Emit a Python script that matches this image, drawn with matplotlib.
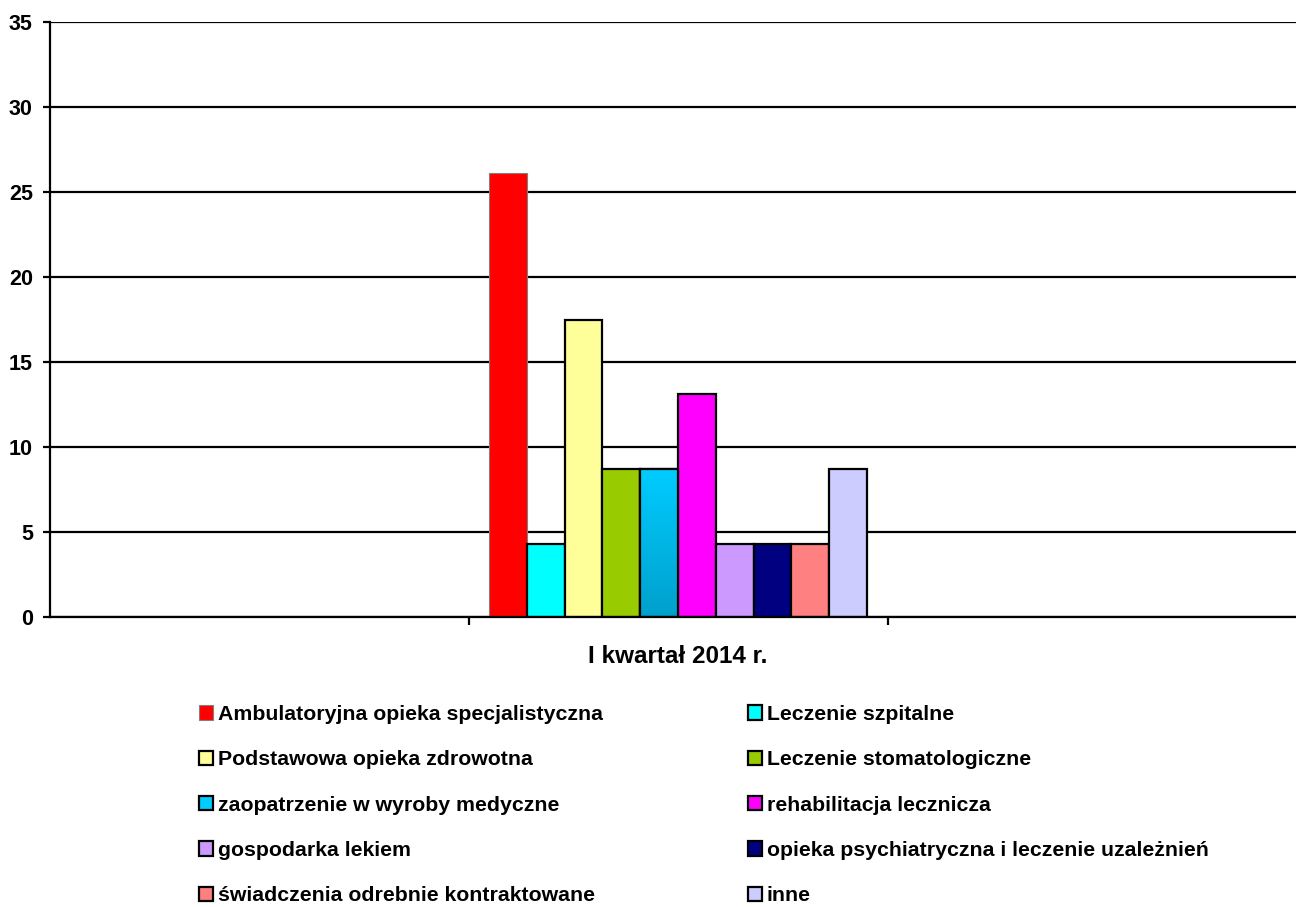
import matplotlib
matplotlib.use("Agg")
import matplotlib.pyplot as plt
import numpy as np
from matplotlib.colors import LinearSegmentedColormap

plt.rcParams['font.family'] = ['Liberation Sans', 'DejaVu Sans']
plt.rcParams['font.weight'] = 'bold'

categories = ['', 'I kwartał 2014 r.', '']
series = ['Ambulatoryjna opieka specjalistyczna', 'Leczenie szpitalne',
          'Podstawowa opieka zdrowotna', 'Leczenie stomatologiczne',
          'zaopatrzenie w wyroby medyczne', 'rehabilitacja lecznicza',
          'gospodarka lekiem', 'opieka psychiatryczna i leczenie uzależnień',
          'świadczenia odrebnie kontraktowane', 'inne']
values = [26.1, 4.3, 17.5, 8.7, 8.7, 13.1, 4.3, 4.3, 4.3, 8.7]
colors = ['#FF0000', '#00FFFF', '#FFFF99', '#99CC00', '#00CCFF',
          '#FF00FF', '#CC99FF', '#000080', '#FF8080', '#CCCCFF']
yticks = [0, 5, 10, 15, 20, 25, 30, 35]

W, H = 1296, 907
fig = plt.figure(figsize=(W / 100, H / 100), dpi=100)
ax_l, ax_r, ax_b, ax_t = 49.5, 1296, 617, 22
ax = fig.add_axes([ax_l / W, 1 - ax_b / H, (ax_r - ax_l) / W, (ax_b - ax_t) / H])

cat_px = 419.0
n = len(series)
bw = 0.902 / n
handles = []
for i, (lab, v, c) in enumerate(zip(series, values, colors)):
    x = 1 - 0.451 + bw * (i + 0.5)
    ec = '#808080' if i == 0 else 'black'
    lw = 0.8 if i == 0 else 1.6
    b = ax.bar(x, v, width=bw, color=c, edgecolor=ec, linewidth=lw, label=lab, zorder=3)
    handles.append(b.patches[0])
    if i == 4:
        rect = b.patches[0]
        cmap = LinearSegmentedColormap.from_list('g', ['#00A0CC', '#00CCFF'])
        grad = np.linspace(0, 1, 256).reshape(-1, 1)
        im = ax.imshow(grad, cmap=cmap, aspect='auto', origin='lower',
                       extent=[x - bw / 2, x + bw / 2, 0, v], zorder=3.5)
        im.set_clip_path(rect)
        ax.bar(x, v, width=bw, color='none', edgecolor='black', linewidth=1.6, zorder=4)
ax.set_xlim(-0.5, -0.5 + (ax_r - ax_l) / cat_px)
ax.set_ylim(0, 35)

ax.set_yticks(yticks)
ax.set_yticklabels([str(t) for t in yticks], fontsize=15.5, fontweight='bold')
ax.yaxis.grid(True, color='black', linewidth=1.6, zorder=1)
ax.set_axisbelow(True)
ax.tick_params(axis='y', length=5, width=1.6, pad=7, direction='out')

ax.set_xticks(range(len(categories)))
ax.set_xticklabels(categories, fontsize=17.5, fontweight='bold')
ax.tick_params(axis='x', which='major', length=0, pad=20)
ax.set_xticks([0.5, 1.5], minor=True)
ax.tick_params(axis='x', which='minor', length=6, width=1.6, direction='out')

for s in ['top', 'right']:
    ax.spines[s].set_visible(False)
for s in ['left', 'bottom']:
    ax.spines[s].set_linewidth(1.6)
    ax.spines[s].set_zorder(5)

order = [0, 2, 4, 6, 8, 1, 3, 5, 7, 9]
fs = 15.3
fpx = fs * 100 / 72
leg = fig.legend([handles[k] for k in order], [series[k] for k in order],
                 ncol=2, loc='upper left', bbox_to_anchor=(199 / W, 1 - 705 / H),
                 frameon=False, prop={'weight': 'bold', 'size': fs},
                 handlelength=14 / fpx, handleheight=14 / fpx, handletextpad=5 / fpx,
                 columnspacing=145 / fpx, labelspacing=1.24, borderpad=0, borderaxespad=0)

fig.savefig('out.png', dpi=100)
